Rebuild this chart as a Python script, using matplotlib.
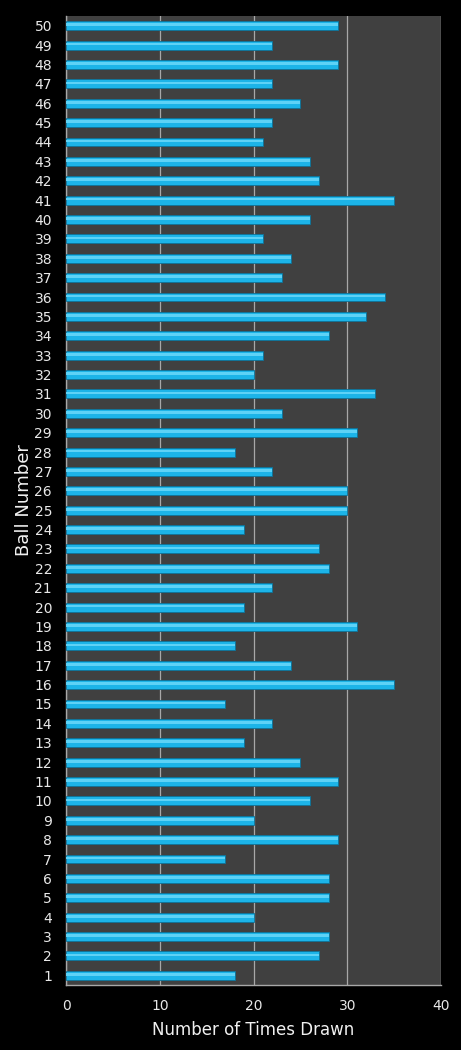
import matplotlib
matplotlib.use("Agg")
import matplotlib.pyplot as plt
import numpy as np

balls = list(range(1, 51))
times_drawn = [18, 27, 28, 20, 28, 28, 17, 29, 20, 26,
               29, 25, 19, 22, 17, 35, 24, 18, 31, 19,
               22, 28, 27, 19, 30, 30, 22, 18, 31, 23,
               33, 20, 21, 28, 32, 34, 23, 24, 21, 26,
               35, 27, 26, 21, 22, 25, 22, 29, 22, 29]
x_ticks = [0, 10, 20, 30, 40]

fig = plt.figure(figsize=(4.61, 10.5), dpi=100, facecolor="black")
ax = fig.add_axes([66/461, 1 - 985/1050, (441-66)/461, (985-16)/1050])
ax.set_facecolor("#404040")

y = np.array(balls)
ax.barh(y, times_drawn, height=0.46, color="#1cb4e8", edgecolor="#0d7399", linewidth=0.6, zorder=3)
ax.barh(y + 0.05, times_drawn, height=0.14, color="#5ed2f6", linewidth=0, zorder=4)

ax.set_xlim(0, 40)
ax.set_ylim(0.5, 50.5)
ax.set_xticks(x_ticks)
ax.set_yticks(balls)
ax.set_yticklabels([str(b) for b in balls])
ax.tick_params(axis="both", length=0, colors="#e8e8e8", labelsize=10)
ax.tick_params(axis="x", pad=10)
ax.tick_params(axis="y", pad=10)
ax.xaxis.grid(True, color="#a8a8a8", linewidth=0.9, zorder=1)
ax.set_axisbelow(True)
for s in ["top", "right"]:
    ax.spines[s].set_visible(False)
for s in ["left", "bottom"]:
    ax.spines[s].set_color("#a8a8a8")
    ax.spines[s].set_linewidth(1.0)

ax.set_xlabel("Number of Times Drawn", color="#f0f0f0", fontsize=12, labelpad=6)
ax.set_ylabel("Ball Number", color="#f0f0f0", fontsize=13, labelpad=1)

fig.savefig("out.png", dpi=100, facecolor="black")
